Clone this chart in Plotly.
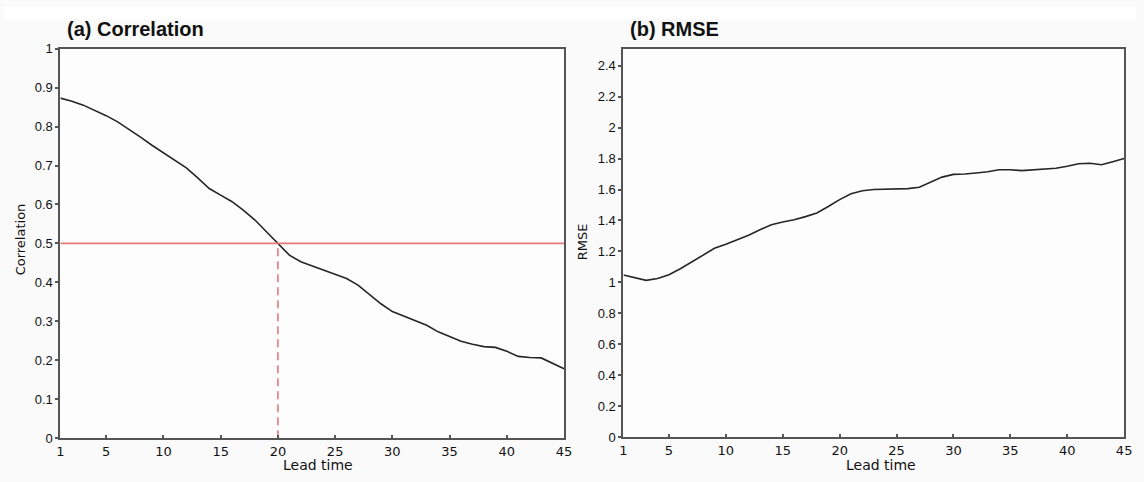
import plotly.graph_objects as go

lead = list(range(1, 46))
correlation = [0.873, 0.865, 0.855, 0.842, 0.828, 0.812, 0.793, 0.773, 0.752, 0.733,
               0.715, 0.694, 0.668, 0.641, 0.624, 0.607, 0.585, 0.560, 0.530, 0.500,
               0.470, 0.453, 0.442, 0.432, 0.420, 0.410, 0.393, 0.370, 0.345, 0.325,
               0.313, 0.303, 0.290, 0.273, 0.260, 0.249, 0.241, 0.235, 0.233, 0.223,
               0.210, 0.207, 0.206, 0.192, 0.178]
rmse = [1.048, 1.030, 1.013, 1.025, 1.050, 1.088, 1.132, 1.175, 1.220, 1.247,
        1.275, 1.305, 1.340, 1.373, 1.390, 1.405, 1.425, 1.448, 1.490, 1.535,
        1.573, 1.592, 1.600, 1.602, 1.605, 1.606, 1.615, 1.650, 1.680, 1.698,
        1.700, 1.707, 1.715, 1.728, 1.728, 1.722, 1.727, 1.730, 1.737, 1.750,
        1.767, 1.770, 1.760, 1.780, 1.800]
x_ticks = [1, 5, 10, 15, 20, 25, 30, 35, 40, 45]
corr_ticks = [0, 0.1, 0.2, 0.3, 0.4, 0.5, 0.6, 0.7, 0.8, 0.9, 1]
corr_tick_text = ["0", "0.1", "0.2", "0.3", "0.4", "0.5", "0.6", "0.7", "0.8", "0.9", "1"]
rmse_ticks = [0, 0.2, 0.4, 0.6, 0.8, 1.0, 1.2, 1.4, 1.6, 1.8, 2.0, 2.2, 2.4]
rmse_tick_text = ["0", "0.2", "0.4", "0.6", "0.8", "1", "1.2", "1.4", "1.6", "1.8", "2", "2.2", "2.4"]
threshold = 0.5
threshold_lead = 20

W, H = 1144, 482
def px_x(p):
    return p / W
def px_y(p):
    return 1 - p / H

fig = go.Figure()
fig.add_trace(go.Scatter(x=lead, y=correlation, mode="lines",
                         line=dict(color="#262626", width=1.6), xaxis="x", yaxis="y",
                         showlegend=False))
fig.add_trace(go.Scatter(x=[lead[0], lead[-1]], y=[threshold, threshold], mode="lines",
                         line=dict(color="#e8787a", width=1.6), xaxis="x", yaxis="y",
                         showlegend=False))
fig.add_trace(go.Scatter(x=[threshold_lead, threshold_lead], y=[0, threshold], mode="lines",
                         line=dict(color="#e8787a", width=1.6, dash="8px,5px"), xaxis="x", yaxis="y",
                         showlegend=False))
fig.add_trace(go.Scatter(x=lead, y=rmse, mode="lines",
                         line=dict(color="#262626", width=1.6), xaxis="x2", yaxis="y2",
                         showlegend=False))

tickfont_x = dict(family="DejaVu Sans", size=13, color="#111")
tickfont_y = dict(family="Liberation Sans", size=13, color="#111")
axis_common = dict(showline=True, linecolor="#555", linewidth=2, mirror=True,
                   showgrid=False, zeroline=False, ticklen=3,
                   tickcolor="#555", tickwidth=1.5)

fig.update_layout(
    width=W, height=H,
    margin=dict(l=0, r=0, t=0, b=0),
    paper_bgcolor="#fafafa", plot_bgcolor="#fdfdfd",
    xaxis=dict(domain=[px_x(57), px_x(566)], range=[1, 45], tickvals=x_ticks, ticks="inside",
               tickfont=tickfont_x, anchor="y", **axis_common),
    yaxis=dict(domain=[px_y(445), px_y(43)], range=[0, 1], tickvals=corr_ticks, ticks="outside",
               ticktext=corr_tick_text, tickfont=tickfont_y, anchor="x", **axis_common),
    xaxis2=dict(domain=[px_x(626), px_x(1132)], range=[1, 45], tickvals=x_ticks, ticks="inside",
                tickfont=tickfont_x, anchor="y2", **axis_common),
    yaxis2=dict(domain=[px_y(444), px_y(43)], range=[0, 2.51], tickvals=rmse_ticks, ticks="outside",
                ticktext=rmse_tick_text, tickfont=tickfont_y, anchor="x2", **axis_common),
    shapes=[dict(type="rect", xref="paper", yref="paper", x0=0, x1=1,
                 y0=px_y(12), y1=1, fillcolor="white", line=dict(width=0), layer="below")],
    annotations=[
        dict(text="<b>(a) Correlation</b>", x=px_x(62), y=px_y(23), xref="paper", yref="paper",
             xanchor="left", yanchor="middle", showarrow=False,
             font=dict(family="Liberation Sans", size=20, color="#111")),
        dict(text="<b>(b) RMSE</b>", x=px_x(631), y=px_y(23), xref="paper", yref="paper",
             xanchor="left", yanchor="middle", showarrow=False,
             font=dict(family="Liberation Sans", size=20, color="#111")),
        dict(text="Lead time", x=px_x(317), y=px_y(473), xref="paper", yref="paper",
             xanchor="center", yanchor="middle", showarrow=False,
             font=dict(family="DejaVu Sans", size=14, color="#111")),
        dict(text="Lead time", x=px_x(886), y=px_y(473), xref="paper", yref="paper",
             xanchor="center", yanchor="middle", showarrow=False,
             font=dict(family="DejaVu Sans", size=14, color="#111")),
        dict(text="Correlation", x=px_x(17), y=px_y(240), xref="paper", yref="paper",
             xanchor="center", yanchor="middle", showarrow=False, textangle=-90,
             font=dict(family="DejaVu Sans", size=13, color="#111")),
        dict(text="RMSE", x=px_x(585), y=px_y(242), xref="paper", yref="paper",
             xanchor="center", yanchor="middle", showarrow=False, textangle=-90,
             font=dict(family="DejaVu Sans", size=13, color="#111")),
    ],
)

fig.write_html("out.html")
